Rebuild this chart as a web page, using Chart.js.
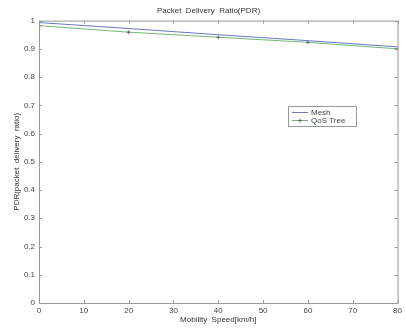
<!DOCTYPE html>
<html>
<head>
<meta charset="utf-8">
<script src="https://cdn.jsdelivr.net/npm/chart.js@4.4.0/dist/chart.umd.min.js"></script>
<style>
  html, body { margin: 0; padding: 0; background: #fff; }
  #wrap { width: 405px; height: 329px; position: relative; }
</style>
</head>
<body>
<div id="wrap"><canvas id="c"></canvas></div>
<script>
const speeds = [0, 20, 40, 60, 80];
const meshPdr = [0.993, 0.972, 0.950, 0.929, 0.907];
const qosTreePdr = [0.982, 0.959, 0.941, 0.923, 0.900];
const xTicks = [0, 10, 20, 30, 40, 50, 60, 70, 80];
const yTicks = [0, 0.1, 0.2, 0.3, 0.4, 0.5, 0.6, 0.7, 0.8, 0.9, 1];

const textCol = '#444';
const font = { family: 'Liberation Sans, Arial, sans-serif', size: 8 };

// matlab style box + inward ticks + legend box
const frame = {
    id: 'frame',
    afterDraw(chart) {
        const { ctx, chartArea: a, scales } = chart;
        ctx.save();
        ctx.strokeStyle = '#999';
        ctx.lineWidth = 1;
        ctx.strokeRect(a.left + 0.5, a.top + 0.5, a.right - a.left, a.bottom - a.top);
        ctx.beginPath();
        xTicks.forEach(v => {
            const x = Math.round(scales.x.getPixelForValue(v)) + 0.5;
            ctx.moveTo(x, a.bottom); ctx.lineTo(x, a.bottom - 3);
            ctx.moveTo(x, a.top); ctx.lineTo(x, a.top + 3);
        });
        yTicks.forEach(v => {
            const y = Math.round(scales.y.getPixelForValue(v)) + 0.5;
            ctx.moveTo(a.left, y); ctx.lineTo(a.left + 3, y);
            ctx.moveTo(a.right, y); ctx.lineTo(a.right - 3, y);
        });
        ctx.stroke();

        // legend
        const lx = 288, ly = 106, lw = 68, lh = 20;
        ctx.fillStyle = '#fff';
        ctx.fillRect(lx, ly, lw, lh);
        ctx.strokeStyle = '#999';
        ctx.strokeRect(lx + 0.5, ly + 0.5, lw, lh);
        ctx.font = '8px Liberation Sans, Arial, sans-serif';
        ctx.fillStyle = textCol;
        ctx.textBaseline = 'middle';
        const ds = chart.data.datasets;
        [0, 1].forEach(i => {
            const yy = ly + 6 + i * 8;
            ctx.strokeStyle = ds[i].borderColor;
            ctx.beginPath();
            ctx.moveTo(lx + 4, yy + 0.5); ctx.lineTo(lx + 20, yy + 0.5);
            ctx.stroke();
            if (i === 1) {
                ctx.strokeStyle = '#667';
                ctx.beginPath();
                ctx.moveTo(lx + 10, yy + 0.5); ctx.lineTo(lx + 14, yy + 0.5);
                ctx.moveTo(lx + 12, yy - 1.5); ctx.lineTo(lx + 12, yy + 2.5);
                ctx.stroke();
            }
            ctx.fillText(ds[i].label, lx + 23, yy + 0.5);
        });
        ctx.restore();
    }
};

new Chart(document.getElementById('c'), {
    type: 'line',
    data: {
        datasets: [{
            label: 'Mesh',
            data: speeds.map((s, i) => ({ x: s, y: meshPdr[i] })),
            borderColor: '#6a78c4',
            borderWidth: 1,
            pointRadius: 0,
            tension: 0,
        }, {
            label: 'QoS Tree',
            data: speeds.map((s, i) => ({ x: s, y: qosTreePdr[i] })),
            borderColor: '#74b878',
            borderWidth: 1,
            pointStyle: 'cross',
            pointRadius: 2,
            pointBorderColor: '#667',
            pointBorderWidth: 1,
            tension: 0,
        }],
    },
    options: {
        responsive: true,
        maintainAspectRatio: false,
        animation: false,
        layout: { padding: { top: 0, right: 0, bottom: 4, left: 12 } },
        plugins: {
            legend: { display: false },
            tooltip: { enabled: false },
            title: {
                display: true,
                text: 'Packet  Delivery  Ratio(PDR)',
                color: '#333',
                font: { ...font, weight: 'normal' },
                padding: { top: 6, bottom: 5 },
            },
        },
        scales: {
            x: {
                type: 'linear',
                min: 0, max: 80,
                afterBuildTicks: s => { s.ticks = xTicks.map(v => ({ value: v })); },
                afterFit: s => { s.height = 22; },
                grid: { display: false, drawTicks: false },
                border: { display: false },
                ticks: { color: textCol, font: font, padding: 3, maxRotation: 0 },
                title: { display: true, text: 'Mobility  Speed[km/h]', color: '#333', font: font, padding: { top: 0, bottom: 0 } },
            },
            y: {
                min: 0, max: 1,
                afterBuildTicks: s => { s.ticks = yTicks.map(v => ({ value: v })); },
                afterFit: s => { s.width = 27; },
                grid: { display: false, drawTicks: false },
                border: { display: false },
                ticks: { color: textCol, font: font, padding: 4, callback: v => String(v) },
                title: { display: true, text: 'PDR(packet  delivery  ratio)', color: '#333', font: font, padding: { top: 0, bottom: 0 } },
            },
        },
    },
    plugins: [frame],
});
</script>
</body>
</html>
